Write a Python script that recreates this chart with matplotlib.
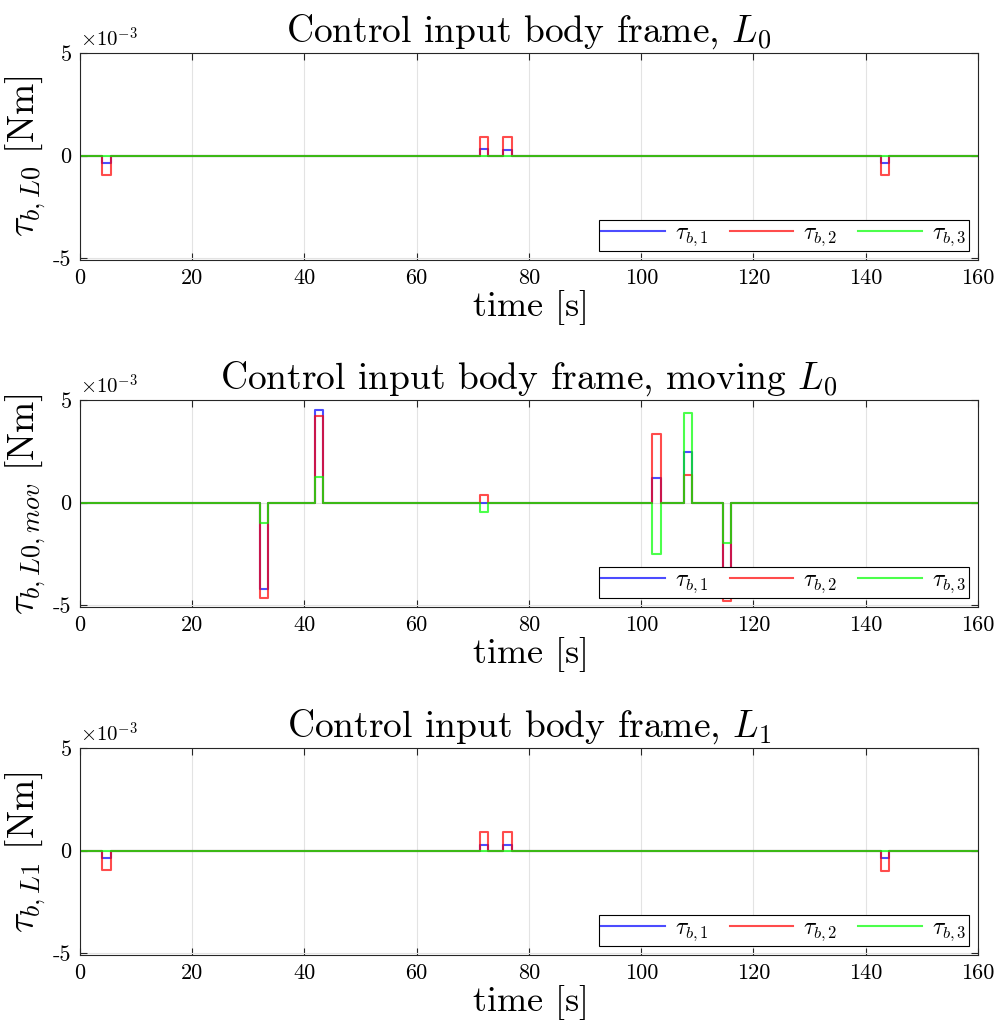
import numpy as np
import matplotlib
matplotlib.use("Agg")
import matplotlib.pyplot as plt

plt.rcParams['font.family'] = 'cmr10'
plt.rcParams['mathtext.fontset'] = 'cm'
plt.rcParams['axes.unicode_minus'] = False
plt.rcParams['axes.formatter.use_mathtext'] = True

# pulse data, values in 1e-3 Nm
# L0
l0_on = [4.0, 71.2, 75.4, 142.7]
l0_off = [5.5, 72.7, 76.9, 144.1]
l0_tau1 = [-0.35, 0.30, 0.28, -0.35]
l0_tau2 = [-0.95, 0.92, 0.92, -0.97]
l0_tau3 = [0.0, 0.0, 0.0, 0.0]

# moving L0
mov_on = [32.1, 41.8, 71.2, 102.0, 107.7, 114.5]
mov_off = [33.5, 43.3, 72.7, 103.5, 109.1, 116.0]
mov_tau1 = [-4.20, 4.53, 0.0, 1.20, 2.47, -4.50]
mov_tau2 = [-4.65, 4.20, 0.38, 3.35, 1.35, -4.78]
mov_tau3 = [-0.98, 1.25, -0.45, -2.49, 4.36, -1.97]

# L1
l1_on = [4.0, 71.2, 75.4, 142.7]
l1_off = [5.5, 72.7, 76.9, 144.1]
l1_tau1 = [-0.35, 0.30, 0.28, -0.35]
l1_tau2 = [-0.95, 0.92, 0.92, -0.97]
l1_tau3 = [0.0, 0.0, 0.0, 0.0]

t_end = 160


def steps(t_on, t_off, amp):
    x = [0]
    y = [0]
    for a, b, v in zip(t_on, t_off, amp):
        x += [a, a, b, b]
        y += [0, v, v, 0]
    x.append(t_end)
    y.append(0)
    return x, y


panels = [
    (r'Control input body frame, $L_0$', r'$\tau_{b,L0}\ \mathrm{[Nm]}$',
     l0_on, l0_off, [l0_tau1, l0_tau2, l0_tau3]),
    (r'Control input body frame, moving $L_0$', r'$\tau_{b,L0,mov}\ \mathrm{[Nm]}$',
     mov_on, mov_off, [mov_tau1, mov_tau2, mov_tau3]),
    (r'Control input body frame, $L_1$', r'$\tau_{b,L1}\ \mathrm{[Nm]}$',
     l1_on, l1_off, [l1_tau1, l1_tau2, l1_tau3]),
]

colors = ['#0000ff', '#ff0000', '#00ff00']
labels = [r'$\tau_{b,1}$', r'$\tau_{b,2}$', r'$\tau_{b,3}$']
bottoms = [0.749, 0.414, 0.078]

fig = plt.figure(figsize=(9.96, 10.36), dpi=100)

for (title, ylab, t_on, t_off, series), bot in zip(panels, bottoms):
    ax = fig.add_axes([0.0803, bot, 0.9016, 0.1998])
    for vals, c, lab in zip(series, colors, labels):
        x, y = steps(t_on, t_off, vals)
        ax.plot(x, y, color=c, lw=1.5, alpha=0.7, label=lab)
    ax.set_xlim(0, 160)
    ax.set_ylim(-5.1, 5)
    ax.set_xticks(np.arange(0, 161, 20))
    ax.set_xticklabels([str(v) for v in range(0, 161, 20)], fontsize=16)
    ax.set_yticks([-5, 0, 5])
    ax.set_yticklabels(['-5', '0', '5'], fontsize=16)
    ax.grid(True, color='#e3e3e3', lw=0.8)
    ax.set_axisbelow(True)
    ax.tick_params(direction='in', top=True, right=True, length=5, width=0.8,
                   color='#262626', pad=6)
    for s in ax.spines.values():
        s.set_color('#262626')
        s.set_linewidth(0.8)
    ax.set_title(title, fontsize=27, pad=8)
    ax.set_xlabel(r'time $\mathrm{[s]}$', fontsize=26, labelpad=0)
    ax.set_ylabel(ylab, fontsize=27, labelpad=4)
    ax.text(0.0, 1.01, r'$\times10^{-3}$', transform=ax.transAxes,
            fontsize=15, ha='left', va='bottom')
    leg = ax.legend(loc='lower right', ncol=3, fancybox=False, edgecolor='k',
                    framealpha=1, fontsize=17, handlelength=2.7,
                    columnspacing=0.9, handletextpad=0.4,
                    borderaxespad=0.4, borderpad=0.1)
    leg.get_frame().set_linewidth(0.8)

fig.savefig('out.png', dpi=100)
